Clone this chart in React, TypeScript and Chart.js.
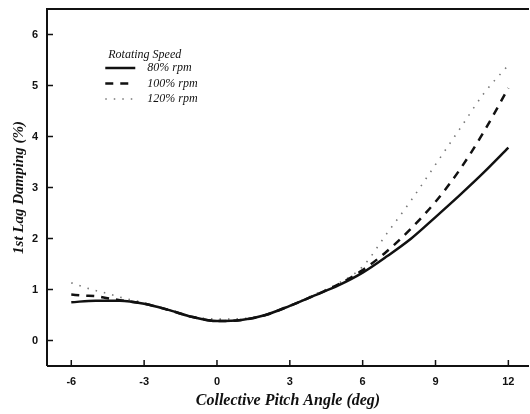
import React, { useEffect, useRef } from "react";
import { Chart, registerables } from "chart.js";

Chart.register(...registerables);

const xTicks = [-6, -3, 0, 3, 6, 9, 12];
const yTicks = [0, 1, 2, 3, 4, 5, 6];

const x80 = [-6, -5, -4, -3, -2, -1, 0, 1, 2, 3, 4, 5, 6, 7, 8, 9, 10, 11, 12];
const y80 = [0.75, 0.78, 0.78, 0.72, 0.6, 0.46, 0.38, 0.4, 0.5, 0.68, 0.88, 1.08, 1.33, 1.65, 2.0, 2.42, 2.85, 3.3, 3.78];

const x100 = [-6, -5.5, -5, -4.5, -4, -3, -2, -1, 0, 1, 2, 3, 4, 5, 6, 7, 8, 9, 10, 11, 12];
const y100 = [0.9, 0.88, 0.87, 0.83, 0.79, 0.72, 0.6, 0.46, 0.38, 0.4, 0.5, 0.68, 0.88, 1.1, 1.38, 1.75, 2.2, 2.72, 3.35, 4.1, 4.95];

const x120 = [-6, -5.5, -5, -4.5, -4, -3, -2, -1, 0, 1, 2, 3, 4, 5, 6, 7, 8, 9, 10, 11, 12];
const y120 = [1.13, 1.05, 0.98, 0.92, 0.85, 0.74, 0.6, 0.47, 0.42, 0.43, 0.5, 0.68, 0.9, 1.12, 1.45, 2.1, 2.75, 3.45, 4.15, 4.85, 5.4];

const seriesLabels = ["80% rpm", "100% rpm", "120% rpm"];
const legendTitle = "Rotating Speed";
const xTitle = "Collective Pitch Angle (deg)";
const yTitle = "1st Lag Damping (%)";

const zip = (xs: number[], ys: number[]) => xs.map((x, i) => ({ x, y: ys[i] }));

const dashes = [[], [8, 7], [1.5, 7]];
const widths = [2.5, 2.5, 1.6];
const colors = ["#111", "#111", "#777"];

const framePlugin = {
  id: "frame",
  afterDraw(chart: any) {
    const { ctx, chartArea, scales } = chart;
    const { left, right, top, bottom } = chartArea;
    ctx.save();
    ctx.strokeStyle = "#111";
    ctx.lineWidth = 2;
    ctx.beginPath();
    ctx.moveTo(left, bottom);
    ctx.lineTo(left, top);
    ctx.lineTo(right, top);
    ctx.moveTo(left, bottom);
    ctx.lineTo(right, bottom);
    ctx.stroke();
    ctx.lineWidth = 1.5;
    ctx.beginPath();
    xTicks.forEach((v) => {
      const px = scales.x.getPixelForValue(v);
      ctx.moveTo(px, bottom);
      ctx.lineTo(px, bottom - 6);
    });
    yTicks.forEach((v) => {
      const py = scales.y.getPixelForValue(v);
      ctx.moveTo(left, py);
      ctx.lineTo(left + 6, py);
    });
    ctx.stroke();

    // legend
    const lx = scales.x.getPixelForValue(-4.6);
    ctx.fillStyle = "#111";
    ctx.font = "italic 12px 'Liberation Serif'";
    ctx.textBaseline = "middle";
    ctx.textAlign = "left";
    const ty = top + 46;
    ctx.fillText(legendTitle, lx + 3, ty);
    seriesLabels.forEach((lab, i) => {
      const y = ty + 13 + i * 15.5;
      ctx.save();
      ctx.strokeStyle = colors[i];
      ctx.lineWidth = widths[i];
      ctx.setLineDash(dashes[i]);
      ctx.beginPath();
      ctx.moveTo(lx, y);
      ctx.lineTo(lx + 30, y);
      ctx.stroke();
      ctx.restore();
      ctx.fillText(lab, lx + 42, y);
    });
    ctx.restore();
  },
};

export default function App() {
  const ref = useRef<HTMLCanvasElement>(null);
  useEffect(() => {
    document.body.style.margin = "0";
    const ds = [zip(x80, y80), zip(x100, y100), zip(x120, y120)].map((d, i) => ({
      label: seriesLabels[i],
      data: d,
      borderColor: colors[i],
      borderWidth: widths[i],
      borderDash: dashes[i],
      pointRadius: 0,
      fill: false,
      tension: 0.4,
      cubicInterpolationMode: "monotone" as const,
    }));
    const chart = new Chart(ref.current!, {
      type: "line",
      data: { datasets: ds },
      plugins: [framePlugin],
      options: {
        animation: false,
        responsive: false,
        layout: { padding: { top: 9, right: 1, left: 0, bottom: 0 } },
        plugins: { legend: { display: false }, tooltip: { enabled: false } },
        scales: {
          x: {
            type: "linear",
            min: -7,
            max: 12.85,
            afterBuildTicks: (s: any) => {
              s.ticks = xTicks.map((v) => ({ value: v }));
            },
            afterFit: (s: any) => {
              s.height = 48;
              s.paddingLeft = 0;
              s.paddingRight = 0;
            },
            grid: { display: false, drawTicks: false },
            border: { display: false },
            ticks: {
              padding: 9,
              color: "#111",
              font: { family: "'Liberation Sans'", weight: "bold", size: 11 },
            },
            title: {
              display: true,
              text: xTitle,
              color: "#111",
              font: { family: "'Liberation Serif'", style: "italic", weight: "bold", size: 16 },
              padding: { top: 5 },
            },
          },
          y: {
            type: "linear",
            min: -0.5,
            max: 6.5,
            afterBuildTicks: (s: any) => {
              s.ticks = yTicks.map((v) => ({ value: v }));
            },
            afterFit: (s: any) => {
              s.width = 47;
              s.paddingTop = 0;
              s.paddingBottom = 0;
            },
            grid: { display: false, drawTicks: false },
            border: { display: false },
            ticks: {
              padding: 9,
              color: "#111",
              font: { family: "'Liberation Sans'", weight: "bold", size: 11 },
            },
            title: {
              display: true,
              text: yTitle,
              color: "#111",
              font: { family: "'Liberation Serif'", style: "italic", weight: "bold", size: 15 },
              padding: { top: 10, bottom: 0 },
            },
          },
        },
      },
    });
    return () => chart.destroy();
  }, []);
  return (
    <div style={{ width: 530, height: 414 }}>
      <canvas ref={ref} width={530} height={414} style={{ display: "block" }} />
    </div>
  );
}
